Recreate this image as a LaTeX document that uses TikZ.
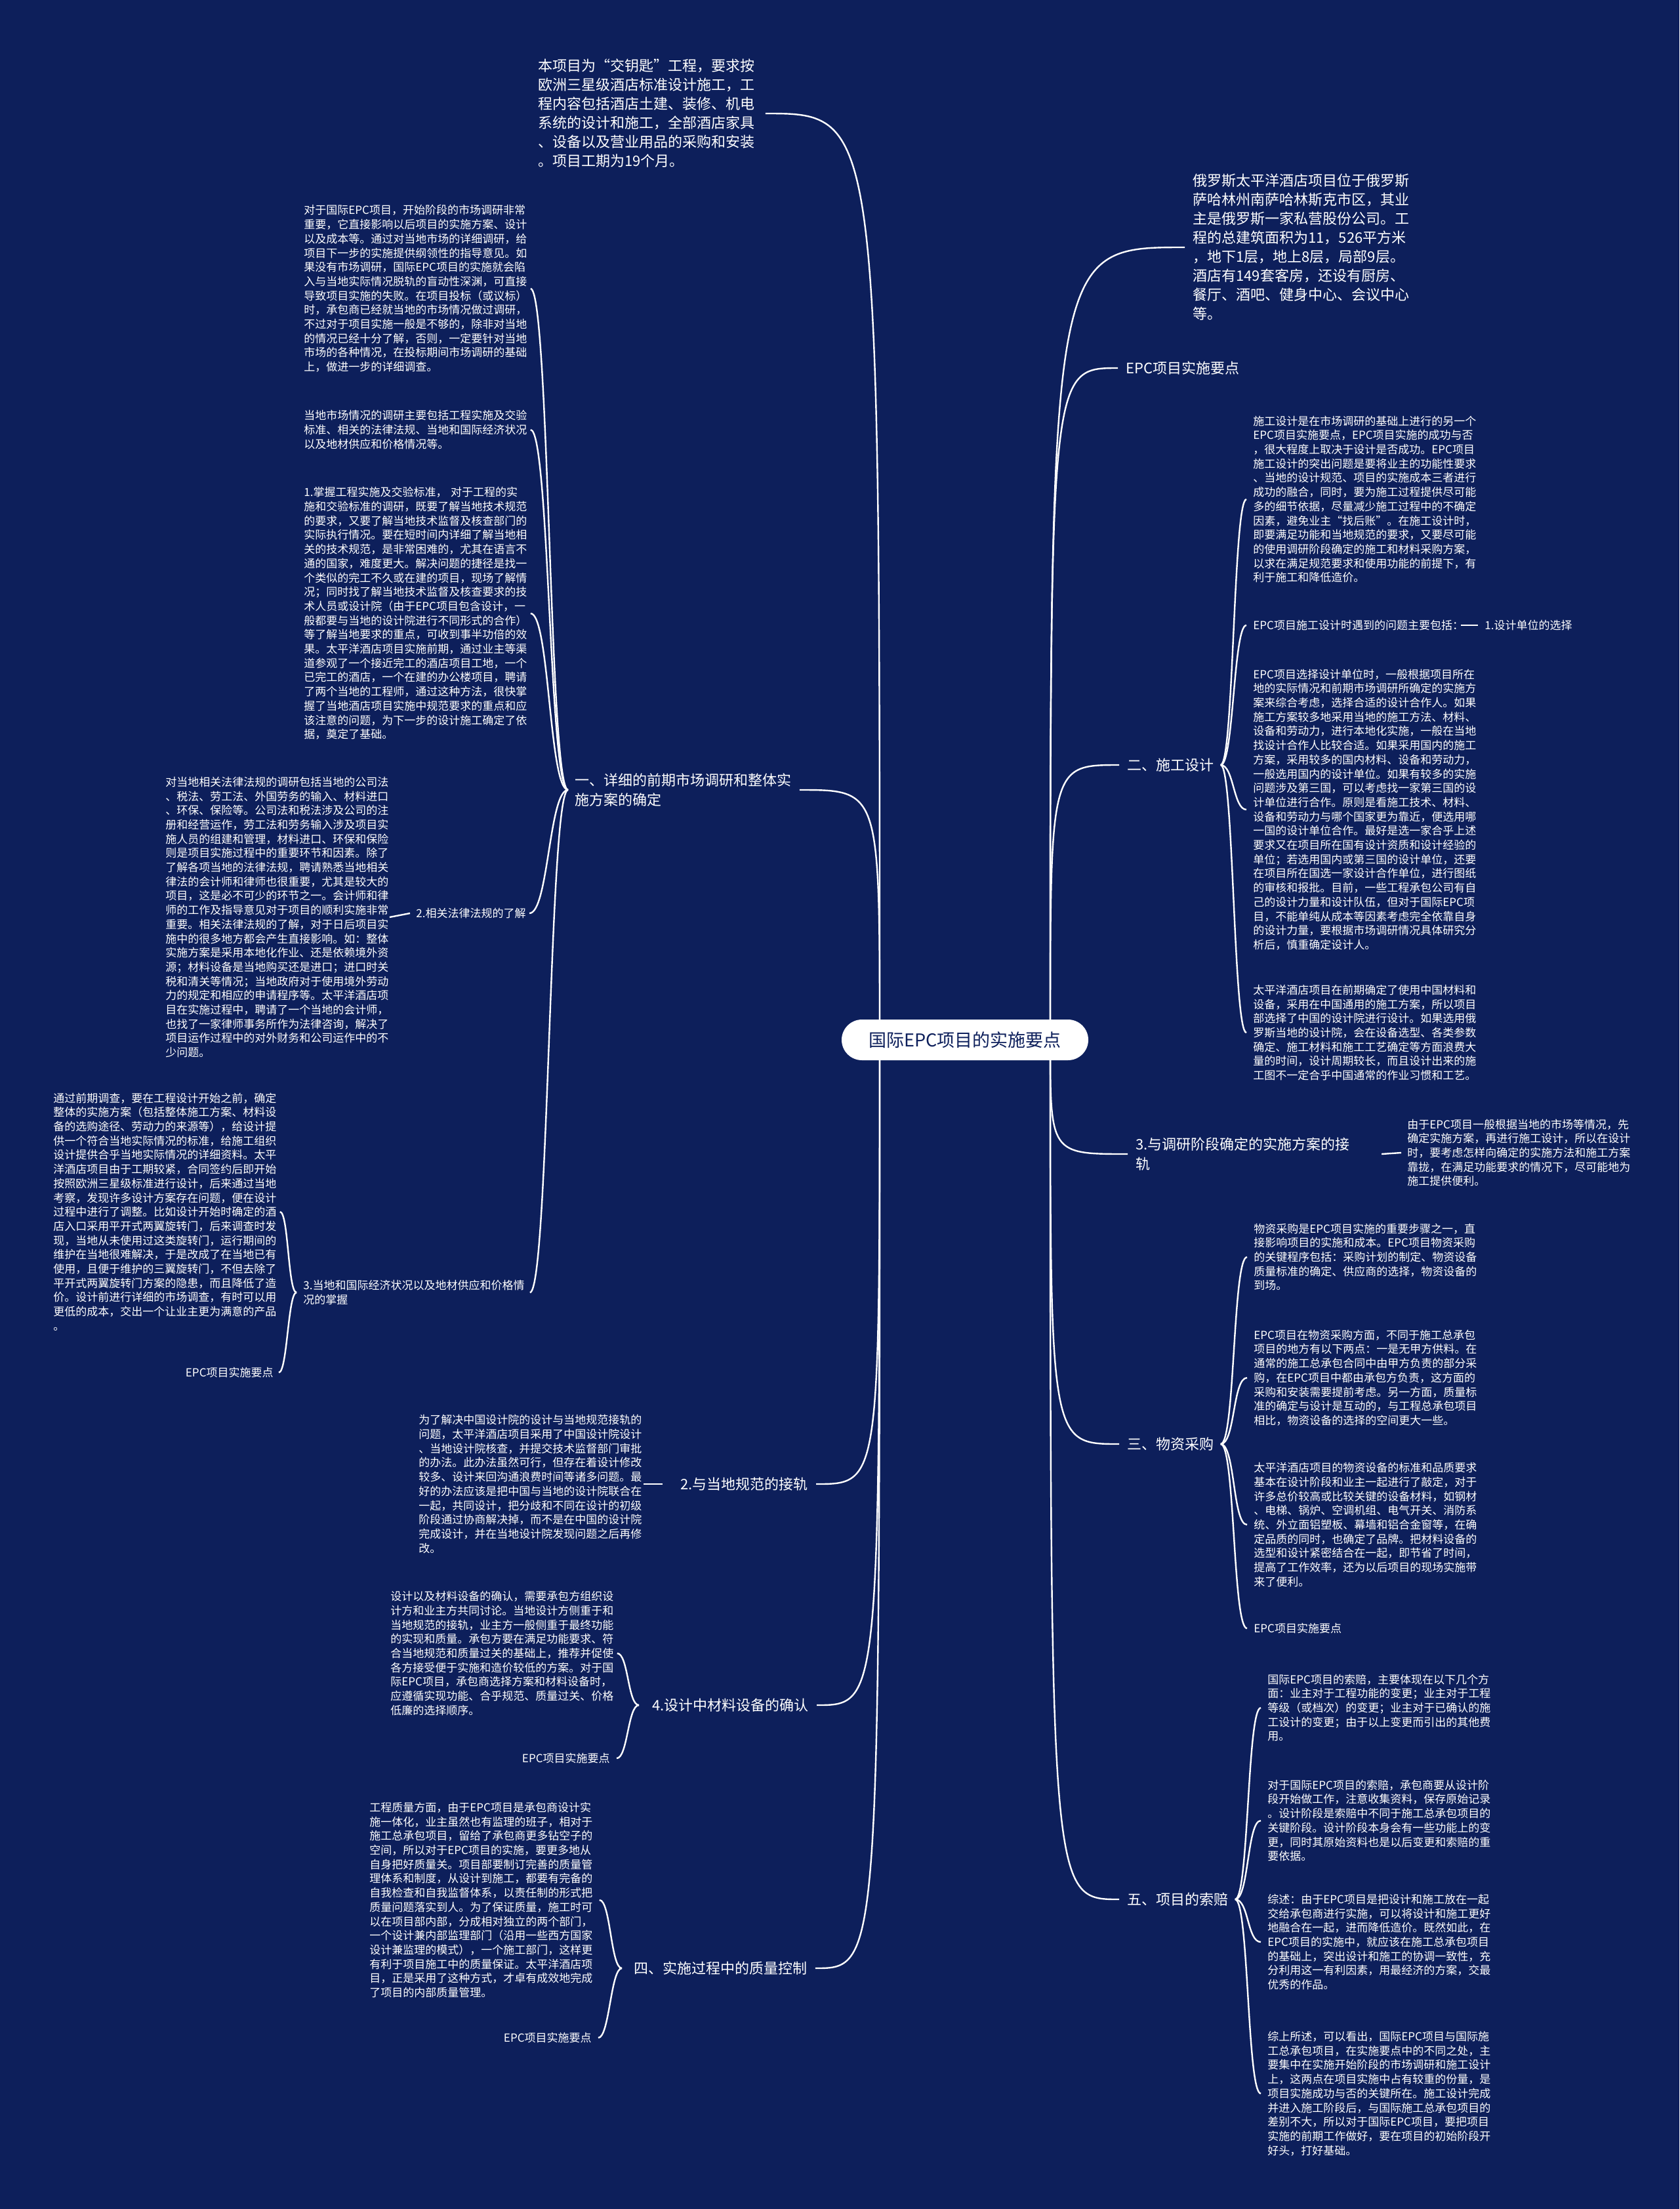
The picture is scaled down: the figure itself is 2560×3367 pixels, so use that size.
\documentclass[tikz,border=0pt]{standalone}
\usepackage{fontspec}
\setmainfont{Noto Sans CJK SC}
\usepackage{tikz}
\usetikzlibrary{backgrounds}
\setlength{\parindent}{0pt}
\definecolor{mapnavy}{RGB}{13,31,91}

\tikzset{
  conn/.style={draw=white, line width=1.2pt},
  rootpill/.style={fill=white, text=mapnavy, rounded corners=15.5pt, minimum width=188pt, minimum height=31pt, inner sep=0pt, font=\fontsize{13.5}{16}\selectfont},
  branch/.style={text=white, inner sep=0pt, align=left, font=\fontsize{11}{15}\selectfont},
  bignote/.style={text=white, inner sep=0pt, align=left, font=\fontsize{11}{14.5}\selectfont},
  smallnote/.style={text=white, inner sep=0pt, align=left, text width=170pt, font=\fontsize{8.5}{10.85}\selectfont},
  smalltag/.style={text=white, inner sep=0pt, font=\fontsize{8.5}{10.85}\selectfont},
}

\begin{document}
\begin{tikzpicture}[x=0.5pt, y=-0.5pt]
\useasboundingbox (0,0) rectangle (2560,3367);

% centre
\node[rootpill] (root) at (1471,1585) {国际EPC项目的实施要点};
\coordinate (rootR) at (1601,1585);
\coordinate (rootL) at (1341,1585);

% ---------------- right side ----------------
\node[bignote, anchor=west] (r1) at (1818,377) {俄罗斯太平洋酒店项目位于俄罗斯\\萨哈林州南萨哈林斯克市区，其业\\主是俄罗斯一家私营股份公司。工\\程的总建筑面积为11，526平方米\\，地下1层，地上8层，局部9层。\\酒店有149套客房，还设有厨房、\\餐厅、酒吧、健身中心、会议中心\\等。};
\node[branch, anchor=west] (r2) at (1716,561) {EPC项目实施要点};

\node[branch, anchor=west] (r3) at (1718,1166) {二、施工设计};
\node[smallnote, anchor=west] (r3a) at (1910,761) {施工设计是在市场调研的基础上进行的另一个\\EPC项目实施要点，EPC项目实施的成功与否\\，很大程度上取决于设计是否成功。EPC项目\\施工设计的突出问题是要将业主的功能性要求\\、当地的设计规范、项目的实施成本三者进行\\成功的融合，同时，要为施工过程提供尽可能\\多的细节依据，尽量减少施工过程中的不确定\\因素，避免业主“找后账”。在施工设计时，\\即要满足功能和当地规范的要求，又要尽可能\\的使用调研阶段确定的施工和材料采购方案，\\以求在满足规范要求和使用功能的前提下，有\\利于施工和降低造价。};
\node[smalltag, anchor=west] (r3b) at (1910,953) {EPC项目施工设计时遇到的问题主要包括：};
\node[smalltag, anchor=west] (r3b1) at (2263,953) {1.设计单位的选择};
\node[smallnote, anchor=west] (r3c) at (1910,1234) {EPC项目选择设计单位时，一般根据项目所在\\地的实际情况和前期市场调研所确定的实施方\\案来综合考虑，选择合适的设计合作人。如果\\施工方案较多地采用当地的施工方法、材料、\\设备和劳动力，进行本地化实施，一般在当地\\找设计合作人比较合适。如果采用国内的施工\\方案，采用较多的国内材料、设备和劳动力，\\一般选用国内的设计单位。如果有较多的实施\\问题涉及第三国，可以考虑找一家第三国的设\\计单位进行合作。原则是看施工技术、材料、\\设备和劳动力与哪个国家更为靠近，便选用哪\\一国的设计单位合作。最好是选一家合乎上述\\要求又在项目所在国有设计资质和设计经验的\\单位；若选用国内或第三国的设计单位，还要\\在项目所在国选一家设计合作单位，进行图纸\\的审核和报批。目前，一些工程承包公司有自\\己的设计力量和设计队伍，但对于国际EPC项\\目，不能单纯从成本等因素考虑完全依靠自身\\的设计力量，要根据市场调研情况具体研究分\\析后，慎重确定设计人。};
\node[smallnote, anchor=west] (r3d) at (1910,1574) {太平洋酒店项目在前期确定了使用中国材料和\\设备，采用在中国通用的施工方案，所以项目\\部选择了中国的设计院进行设计。如果选用俄\\罗斯当地的设计院，会在设备选型、各类参数\\确定、施工材料和施工工艺确定等方面浪费大\\量的时间，设计周期较长，而且设计出来的施\\工图不一定合乎中国通常的作业习惯和工艺。};

\node[branch, anchor=west] (r4) at (1731,1759) {3.与调研阶段确定的实施方案的接\\轨};
\node[smallnote, anchor=west] (r4n) at (2145,1757) {由于EPC项目一般根据当地的市场等情况，先\\确定实施方案，再进行施工设计，所以在设计\\时，要考虑怎样向确定的实施方法和施工方案\\靠拢，在满足功能要求的情况下，尽可能地为\\施工提供便利。};

\node[branch, anchor=west] (r5) at (1718,2201) {三、物资采购};
\node[smallnote, anchor=west] (r5a) at (1911,1916) {物资采购是EPC项目实施的重要步骤之一，直\\接影响项目的实施和成本。EPC项目物资采购\\的关键程序包括：采购计划的制定、物资设备\\质量标准的确定、供应商的选择，物资设备的\\到场。};
\node[smallnote, anchor=west] (r5b) at (1911,2100) {EPC项目在物资采购方面，不同于施工总承包\\项目的地方有以下两点：一是无甲方供料。在\\通常的施工总承包合同中由甲方负责的部分采\\购，在EPC项目中都由承包方负责，这方面的\\采购和安装需要提前考虑。另一方面，质量标\\准的确定与设计是互动的，与工程总承包项目\\相比，物资设备的选择的空间更大一些。};
\node[smallnote, anchor=west] (r5c) at (1911,2324) {太平洋酒店项目的物资设备的标准和品质要求\\基本在设计阶段和业主一起进行了敲定，对于\\许多总价较高或比较关键的设备材料，如钢材\\、电梯、锅炉、空调机组、电气开关、消防系\\统、外立面铝塑板、幕墙和铝合金窗等，在确\\定品质的同时，也确定了品牌。把材料设备的\\选型和设计紧密结合在一起，即节省了时间，\\提高了工作效率，还为以后项目的现场实施带\\来了便利。};
\node[smalltag, anchor=west] (r5d) at (1911,2482) {EPC项目实施要点};

\node[branch, anchor=west] (r6) at (1718,2895) {五、项目的索赔};
\node[smallnote, anchor=west] (r6a) at (1932,2603) {国际EPC项目的索赔，主要体现在以下几个方\\面：业主对于工程功能的变更；业主对于工程\\等级（或档次）的变更；业主对于已确认的施\\工设计的变更；由于以上变更而引出的其他费\\用。};
\node[smallnote, anchor=west] (r6b) at (1932,2775) {对于国际EPC项目的索赔，承包商要从设计阶\\段开始做工作，注意收集资料，保存原始记录\\。设计阶段是索赔中不同于施工总承包项目的\\关键阶段。设计阶段本身会有一些功能上的变\\更，同时其原始资料也是以后变更和索赔的重\\要依据。};
\node[smallnote, anchor=west] (r6c) at (1932,2960) {综述：由于EPC项目是把设计和施工放在一起\\交给承包商进行实施，可以将设计和施工更好\\地融合在一起，进而降低造价。既然如此，在\\EPC项目的实施中，就应该在施工总承包项目\\的基础上，突出设计和施工的协调一致性，充\\分利用这一有利因素，用最经济的方案，交最\\优秀的作品。};
\node[smallnote, anchor=west] (r6d) at (1932,3191) {综上所述，可以看出，国际EPC项目与国际施\\工总承包项目，在实施要点中的不同之处，主\\要集中在实施开始阶段的市场调研和施工设计\\上，这两点在项目实施中占有较重的份量，是\\项目实施成功与否的关键所在。施工设计完成\\并进入施工阶段后，与国际施工总承包项目的\\差别不大，所以对于国际EPC项目，要把项目\\实施的前期工作做好，要在项目的初始阶段开\\好头，打好基础。};

% ---------------- left side ----------------
\node[bignote, anchor=west] (l1) at (820,173) {本项目为“交钥匙”工程，要求按\\欧洲三星级酒店标准设计施工，工\\程内容包括酒店土建、装修、机电\\系统的设计和施工，全部酒店家具\\、设备以及营业用品的采购和安装\\。项目工期为19个月。};

\node[branch, anchor=west] (l2) at (876,1204) {一、详细的前期市场调研和整体实\\施方案的确定};
\node[smallnote, anchor=west] (l2a) at (463,440) {对于国际EPC项目，开始阶段的市场调研非常\\重要，它直接影响以后项目的实施方案、设计\\以及成本等。通过对当地市场的详细调研，给\\项目下一步的实施提供纲领性的指导意见。如\\果没有市场调研，国际EPC项目的实施就会陷\\入与当地实际情况脱轨的盲动性深渊，可直接\\导致项目实施的失败。在项目投标（或议标）\\时，承包商已经就当地的市场情况做过调研，\\不过对于项目实施一般是不够的，除非对当地\\的情况已经十分了解，否则，一定要针对当地\\市场的各种情况，在投标期间市场调研的基础\\上，做进一步的详细调查。};
\node[smallnote, anchor=west] (l2b) at (463,655) {当地市场情况的调研主要包括工程实施及交验\\标准、相关的法律法规、当地和国际经济状况\\以及地材供应和价格情况等。};
\node[smallnote, anchor=west] (l2c) at (463,935) {1.掌握工程实施及交验标准，~对于工程的实\\施和交验标准的调研，既要了解当地技术规范\\的要求，又要了解当地技术监督及核查部门的\\实际执行情况。要在短时间内详细了解当地相\\关的技术规范，是非常困难的，尤其在语言不\\通的国家，难度更大。解决问题的捷径是找一\\个类似的完工不久或在建的项目，现场了解情\\况；同时找了解当地技术监督及核查要求的技\\术人员或设计院（由于EPC项目包含设计，一\\般都要与当地的设计院进行不同形式的合作）\\等了解当地要求的重点，可收到事半功倍的效\\果。太平洋酒店项目实施前期，通过业主等渠\\道参观了一个接近完工的酒店项目工地，一个\\已完工的酒店，一个在建的办公楼项目，聘请\\了两个当地的工程师，通过这种方法，很快掌\\握了当地酒店项目实施中规范要求的重点和应\\该注意的问题，为下一步的设计施工确定了依\\据，奠定了基础。};
\node[smalltag, anchor=east] (l2d) at (802,1392) {2.相关法律法规的了解};
\node[smallnote, anchor=west] (l2dn) at (252,1398) {对当地相关法律法规的调研包括当地的公司法\\、税法、劳工法、外国劳务的输入、材料进口\\、环保、保险等。公司法和税法涉及公司的注\\册和经营运作，劳工法和劳务输入涉及项目实\\施人员的组建和管理，材料进口、环保和保险\\则是项目实施过程中的重要环节和因素。除了\\了解各项当地的法律法规，聘请熟悉当地相关\\律法的会计师和律师也很重要，尤其是较大的\\项目，这是必不可少的环节之一。会计师和律\\师的工作及指导意见对于项目的顺利实施非常\\重要。相关法律法规的了解，对于日后项目实\\施中的很多地方都会产生直接影响。如：整体\\实施方案是采用本地化作业、还是依赖境外资\\源；材料设备是当地购买还是进口；进口时关\\税和清关等情况；当地政府对于使用境外劳动\\力的规定和相应的申请程序等。太平洋酒店项\\目在实施过程中，聘请了一个当地的会计师，\\也找了一家律师事务所作为法律咨询，解决了\\项目运作过程中的对外财务和公司运作中的不\\少问题。};
\node[smallnote, anchor=west] (l2e) at (462,1970) {3.当地和国际经济状况以及地材供应和价格情\\况的掌握};
\node[smallnote, anchor=west] (l2en) at (81,1847) {通过前期调查，要在工程设计开始之前，确定\\整体的实施方案（包括整体施工方案、材料设\\备的选购途径、劳动力的来源等），给设计提\\供一个符合当地实际情况的标准，给施工组织\\设计提供合乎当地实际情况的详细资料。太平\\洋酒店项目由于工期较紧，合同签约后即开始\\按照欧洲三星级标准进行设计，后来通过当地\\考察，发现许多设计方案存在问题，便在设计\\过程中进行了调整。比如设计开始时确定的酒\\店入口采用平开式两翼旋转门，后来调查时发\\现，当地从未使用过这类旋转门，运行期间的\\维护在当地很难解决，于是改成了在当地已有\\使用，且便于维护的三翼旋转门，不但去除了\\平开式两翼旋转门方案的隐患，而且降低了造\\价。设计前进行详细的市场调查，有时可以用\\更低的成本，交出一个让业主更为满意的产品\\。};
\node[smalltag, anchor=east] (l2ek) at (417,2092) {EPC项目实施要点};

\node[branch, anchor=west] (l3) at (1037,2262) {2.与当地规范的接轨};
\node[smallnote, anchor=west] (l3n) at (638,2262) {为了解决中国设计院的设计与当地规范接轨的\\问题，太平洋酒店项目采用了中国设计院设计\\、当地设计院核查，并提交技术监督部门审批\\的办法。此办法虽然可行，但存在着设计修改\\较多、设计来回沟通浪费时间等诸多问题。最\\好的办法应该是把中国与当地的设计院联合在\\一起，共同设计，把分歧和不同在设计的初级\\阶段通过协商解决掉，而不是在中国的设计院\\完成设计，并在当地设计院发现问题之后再修\\改。};

\node[branch, anchor=west] (l4) at (994,2599) {4.设计中材料设备的确认};
\node[smallnote, anchor=west] (l4n) at (595,2520) {设计以及材料设备的确认，需要承包方组织设\\计方和业主方共同讨论。当地设计方侧重于和\\当地规范的接轨，业主方一般侧重于最终功能\\的实现和质量。承包方要在满足功能要求、符\\合当地规范和质量过关的基础上，推荐并促使\\各方接受便于实施和造价较低的方案。对于国\\际EPC项目，承包商选择方案和材料设备时，\\应遵循实现功能、合乎规范、质量过关、价格\\低廉的选择顺序。};
\node[smalltag, anchor=east] (l4k) at (930,2680) {EPC项目实施要点};

\node[branch, anchor=west] (l5) at (966,3000) {四、实施过程中的质量控制};
\node[smallnote, anchor=west] (l5n) at (563,2896) {工程质量方面，由于EPC项目是承包商设计实\\施一体化，业主虽然也有监理的班子，相对于\\施工总承包项目，留给了承包商更多钻空子的\\空间，所以对于EPC项目的实施，要更多地从\\自身把好质量关。项目部要制订完善的质量管\\理体系和制度，从设计到施工，都要有完备的\\自我检查和自我监督体系，以责任制的形式把\\质量问题落实到人。为了保证质量，施工时可\\以在项目部内部，分成相对独立的两个部门，\\一个设计兼内部监理部门（沿用一些西方国家\\设计兼监理的模式），一个施工部门，这样更\\有利于项目施工中的质量保证。太平洋酒店项\\目，正是采用了这种方式，才卓有成效地完成\\了项目的内部质量管理。};
\node[smalltag, anchor=east] (l5k) at (902,3106) {EPC项目实施要点};

\begin{scope}[on background layer]
  \fill[mapnavy] (0,0) rectangle (2560,3367);

  % root to branches
  \foreach \b in {r1,r2,r3,r4,r5,r6}
    \draw[conn] (rootR) .. controls (rootR |- \b.west) .. ([xshift=-6pt]\b.west);
  \foreach \b in {l2,l3,l4,l5}
    \draw[conn] (rootL) .. controls (rootL |- \b.east) .. ([xshift=6pt]\b.east);
  \draw[conn] (rootL) .. controls (rootL |- l1.east) .. ([xshift=8pt]l1.east);

  % right brackets
  \foreach \c in {r3a,r3b,r3c,r3d}
    \draw[conn] ([xshift=5pt]r3.east) .. controls +(20,0) and +(-20,0) .. ([xshift=-5pt]\c.west);
  \draw[conn] ([xshift=-2pt]r3b.east) -- ([xshift=-5pt]r3b1.west);
  \draw[conn] ([xshift=24pt]r4.east) -- ([xshift=-4.5pt]r4n.west);
  \foreach \c in {r5a,r5b,r5c,r5d}
    \draw[conn] ([xshift=5pt]r5.east) .. controls +(22,0) and +(-22,0) .. ([xshift=-5pt]\c.west);
  \foreach \c in {r6a,r6b,r6c,r6d}
    \draw[conn] ([xshift=5pt]r6.east) .. controls +(21,0) and +(-21,0) .. ([xshift=-5pt]\c.west);

  % left brackets
  \foreach \c in {l2a,l2b,l2c,l2d,l2e}
    \draw[conn] ([xshift=-5pt]l2.west) .. controls +(-29,0) and +(29,0) .. ([xshift=2.5pt]\c.east);
  \draw[conn] ([xshift=-4.5pt]l2d.west) -- ([xshift=0.5pt]l2dn.east);
  \draw[conn] ([xshift=-5pt]l2e.west) .. controls +(-13,0) and +(13,0) .. ([xshift=2.5pt]l2en.east);
  \draw[conn] ([xshift=-5pt]l2e.west) .. controls +(-13,0) and +(13,0) .. ([xshift=4pt]l2ek.east);
  \draw[conn] ([xshift=-13.5pt]l3.west) -- ([xshift=1pt]l3n.east);
  \draw[conn] ([xshift=-10pt]l4.west) .. controls +(-17,0) and +(17,0) .. ([xshift=2.5pt]l4n.east);
  \draw[conn] ([xshift=-10pt]l4.west) .. controls +(-17,0) and +(17,0) .. ([xshift=5pt]l4k.east);
  \draw[conn] ([xshift=-9pt]l5.west) .. controls +(-17,0) and +(17,0) .. ([xshift=5pt]l5n.east);
  \draw[conn] ([xshift=-9pt]l5.west) .. controls +(-17,0) and +(17,0) .. ([xshift=5pt]l5k.east);
\end{scope}
\end{tikzpicture}
\end{document}
